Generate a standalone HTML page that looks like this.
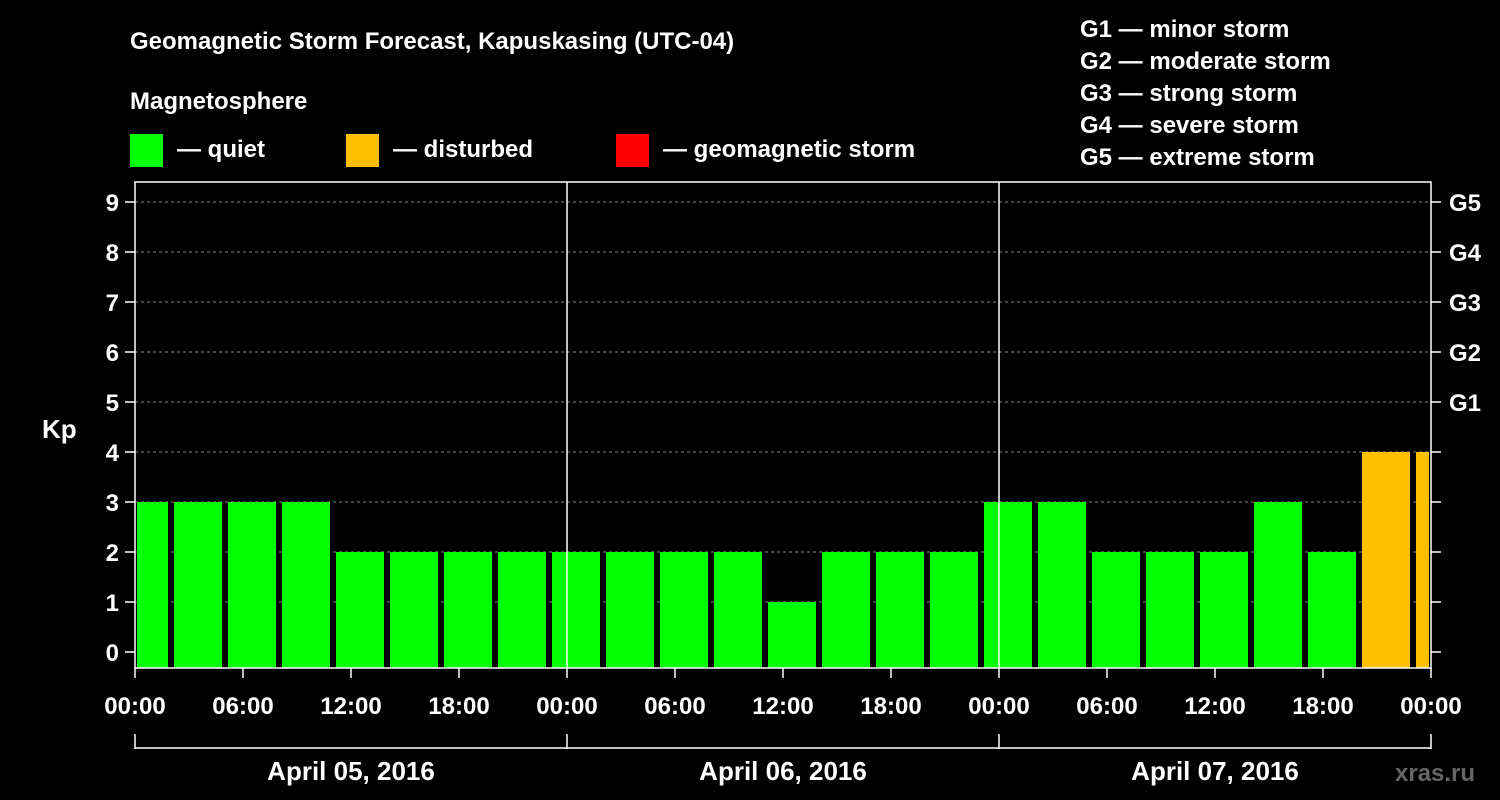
<!DOCTYPE html>
<html><head><meta charset="utf-8"><style>
body{margin:0;background:#000;}
svg{display:block;font-family:"Liberation Sans",sans-serif;font-weight:bold;}
</style></head><body>
<svg id="chart" width="1500" height="800" viewBox="0 0 1500 800">
<rect width="1500" height="800" fill="#000"/>
<text x="130" y="49" fill="#fff" font-size="24">Geomagnetic Storm Forecast, Kapuskasing (UTC-04)</text>
<text x="130" y="109" fill="#fff" font-size="24">Magnetosphere</text>
<g><rect x="130" y="134" width="33" height="33" fill="#00ff00"/><text x="177" y="157" fill="#fff" font-size="24">— quiet</text></g>
<g><rect x="346" y="134" width="33" height="33" fill="#ffc000"/><text x="393" y="157" fill="#fff" font-size="24">— disturbed</text></g>
<g><rect x="616" y="134" width="33" height="33" fill="#ff0000"/><text x="663" y="157" fill="#fff" font-size="24">— geomagnetic storm</text></g>
<g fill="#fff" font-size="24">
<text x="1080" y="37">G1 — minor storm</text><text x="1080" y="69">G2 — moderate storm</text><text x="1080" y="101">G3 — strong storm</text><text x="1080" y="133">G4 — severe storm</text><text x="1080" y="165">G5 — extreme storm</text>
</g>
<text x="42" y="438" fill="#fff" font-size="26">Kp</text>
<text x="1395" y="781" fill="#666" font-size="24">xras.ru</text>
<g id="grid"></g><g id="bars"></g><g id="axes"></g>
</svg>
<script>
const values=[3,3,3,3,2,2,2,2,2,2,2,2,1,2,2,2,3,3,2,2,2,3,2,4,4];
const kpTicks=[0,1,2,3,4,5,6,7,8,9];
const gLabels=["G1","G2","G3","G4","G5"];
const timeLabels=["00:00","06:00","12:00","18:00"];
const dates=["April 05, 2016","April 06, 2016","April 07, 2016"];
const NS="http://www.w3.org/2000/svg";
const X0=135,PXH=18,Y0=652,PXK=50,TOP=182,BOT=668,X1=1431;
const x=h=>X0+h*PXH, y=v=>Y0-v*PXK;
function mk(t,a,p){const e=document.createElementNS(NS,t);for(const k in a)e.setAttribute(k,a[k]);p.appendChild(e);return e;}
const grid=document.getElementById('grid'),bars=document.getElementById('bars'),axes=document.getElementById('axes');
kpTicks.forEach(v=>{
 if(v>0){const l=mk('line',{x1:X0,x2:X1,y1:y(v),y2:y(v),stroke:'#888','stroke-dasharray':'3,3','stroke-width':1},grid);
 
 }
 const t=mk('line',{x1:X0-10,x2:X0,y1:y(v),y2:y(v),stroke:'#fff','stroke-width':1.5},axes);
 
 
 const t2=mk('line',{x1:X1,x2:X1+10,y1:y(v),y2:y(v),stroke:'#fff','stroke-width':1.5},axes);
 
 
 const lb=mk('text',{x:X0-16,y:y(v)+9,fill:'#fff','font-size':24,'text-anchor':'end'},axes);lb.textContent=v;
 
 
});
gLabels.forEach((g,i)=>{const lb=mk('text',{x:X1+18,y:y(5+i)+9,fill:'#fff','font-size':24},axes);lb.textContent=g;
 
 });
values.forEach((v,i)=>{
 let s=-1+3*i,e=s+3; s=Math.max(s,0); e=Math.min(e,72);
 const r=mk('rect',{x:x(s)+(i==0?2:3),y:y(v),width:x(e)-x(s)-(i==0||i==values.length-1?5:6),height:BOT-y(v),fill:v>=5?'#ff0000':(v>=4?'#ffc000':'#00ff00')},bars);
 
 
});
const fr=mk('rect',{x:X0,y:TOP,width:X1-X0,height:BOT-TOP,fill:'none',stroke:'#fff','stroke-width':1.5},axes);


[24,48].forEach(h=>{const l=mk('line',{x1:x(h),x2:x(h),y1:TOP,y2:BOT,stroke:'#fff','stroke-width':1.5},axes);
 
 });
for(let h=0;h<=72;h+=6){
 const t=mk('line',{x1:x(h),x2:x(h),y1:BOT,y2:BOT+10,stroke:'#fff','stroke-width':1.5},axes);
 
 
 const lb=mk('text',{x:x(h),y:714,fill:'#fff','font-size':24,'text-anchor':'middle'},axes);lb.textContent=timeLabels[(h/6)%4];
 
 
}
const br=mk('line',{x1:X0,x2:X1,y1:748,y2:748,stroke:'#fff','stroke-width':1.5},axes);


for(let d=0;d<=3;d++){const l=mk('line',{x1:x(d*24),x2:x(d*24),y1:734,y2:749,stroke:'#fff','stroke-width':1.5},axes);
 
 }
dates.forEach((d,i)=>{const lb=mk('text',{x:x(i*24+12),y:780,fill:'#fff','font-size':26,'text-anchor':'middle'},axes);lb.textContent=d;
 
 });
</script>
</body></html>
